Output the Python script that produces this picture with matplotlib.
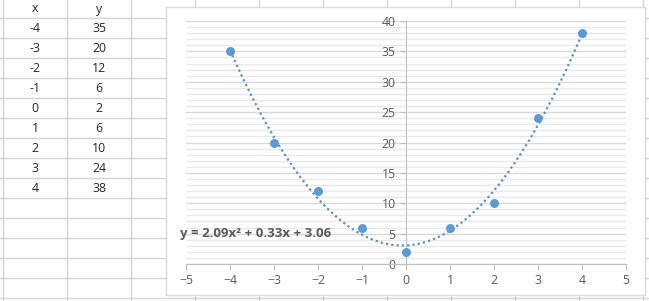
import numpy as np
import matplotlib
matplotlib.use("Agg")
import matplotlib.pyplot as plt
from matplotlib.patches import Rectangle
from matplotlib.ticker import MultipleLocator

# data from the sheet
x_vals = [-4, -3, -2, -1, 0, 1, 2, 3, 4]
y_vals = [35, 20, 12, 6, 2, 6, 10, 24, 38]
col_headers = ["x", "y"]

W, H = 649, 301
fig = plt.figure(figsize=(W / 100, H / 100), dpi=100)
fig.patch.set_facecolor("white")
plt.rcParams["font.family"] = ["Open Sans", "DejaVu Sans"]

# -------- spreadsheet background (pixel coords) --------
bg = fig.add_axes([0, 0, 1, 1])
bg.set_xlim(0, W)
bg.set_ylim(H, 0)
bg.axis("off")
grid_c = "#d4d4d4"
col_w, row_h = 64, 20
x0, y0 = 3, 18
for k in range(11):
    bg.plot([x0 + k * col_w] * 2, [0, H], color=grid_c, lw=1)
for k in range(15):
    bg.plot([0, W], [y0 + k * row_h] * 2, color=grid_c, lw=1)

# cell contents
cell_kw = dict(ha="center", va="center", fontsize=8.8, color="#262626")
bg.text(x0 + col_w / 2, y0 - row_h / 2 + 1, col_headers[0], **cell_kw)
bg.text(x0 + col_w * 1.5, y0 - row_h / 2 + 1, col_headers[1], **cell_kw)
for i, (xv, yv) in enumerate(zip(x_vals, y_vals)):
    yc = y0 + row_h * (i + 0.5) + 1
    bg.text(x0 + col_w / 2, yc, str(xv), **cell_kw)
    bg.text(x0 + col_w * 1.5, yc, str(yv), **cell_kw)

# chart frame
bg.add_patch(Rectangle((166, 7), 645 - 166, 295 - 7, facecolor="white", edgecolor="#d9d9d9", lw=1, zorder=5))

# -------- chart --------
left, right, top, bottom = 186, 626, 21, 264
ax = fig.add_axes([left / W, 1 - bottom / H, (right - left) / W, (bottom - top) / H])
ax.set_facecolor("none")
ax.set_xlim(-5, 5)
ax.set_ylim(0, 40)
ax.xaxis.set_major_locator(MultipleLocator(1))
ax.yaxis.set_major_locator(MultipleLocator(5))
ax.yaxis.set_minor_locator(MultipleLocator(1))
ax.grid(True, axis="y", which="major", color="#d9d9d9", lw=1)
ax.grid(True, axis="y", which="minor", color="#e9e9e9", lw=1)
ax.set_axisbelow(True)
for s in ["top", "right"]:
    ax.spines[s].set_visible(False)
ax.spines["left"].set_position(("data", 0))
ax.spines["left"].set_color("#bfbfbf")
ax.spines["bottom"].set_color("#bfbfbf")
ax.tick_params(axis="both", which="major", colors="#bfbfbf", labelcolor="#595959",
               labelsize=8.8, length=4, direction="out")
ax.tick_params(axis="y", which="minor", length=0)

coef = np.polyfit(x_vals, y_vals, 2)
xs = np.linspace(min(x_vals), max(x_vals), 200)
ax.plot(xs, np.polyval(coef, xs), color="#5b8fc4", lw=1.6, linestyle=(0, (1, 1.4)), zorder=3)
ax.scatter(x_vals, y_vals, s=42, color="#5b9bd5", zorder=4, linewidths=0)

eq = "y = {:.2f}x\u00b2 + {:.2f}x + {:.2f}".format(*coef)
fig.text(180 / W, 1 - 233 / H, eq, ha="left", va="center", fontsize=9.5, color="#595959", fontweight="bold")

plt.savefig("out.png", dpi=100)
